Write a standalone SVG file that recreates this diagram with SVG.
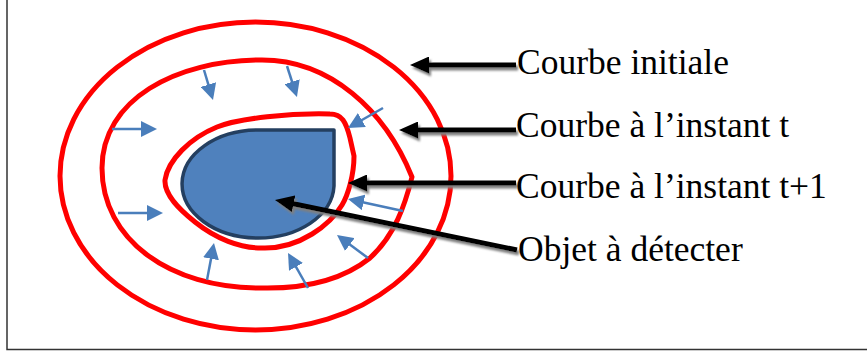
<svg xmlns="http://www.w3.org/2000/svg" width="867" height="356" viewBox="0 0 867 356">
<style>
.red{fill:none;stroke:#FF0000;stroke-width:5;stroke-linejoin:round}
.lbl{font-family:"Liberation Serif","Times New Roman",serif;font-size:35.5px;fill:#000}
.blue{stroke:#4A7EBB;stroke-width:2.5;fill:none}
.blk{stroke:#000;stroke-width:5;fill:none}
</style>
<defs>
<marker id="bh" viewBox="0 0 16 16" refX="8" refY="8" markerWidth="16" markerHeight="16" markerUnits="userSpaceOnUse" orient="auto">
<path d="M0,0 L16,8 L0,16 Z" fill="#4A7EBB"/>
</marker>
<marker id="kh" viewBox="0 0 19 17" refX="9" refY="8.5" markerWidth="19" markerHeight="17" markerUnits="userSpaceOnUse" orient="auto">
<path d="M0,0 L19,8.5 L0,17 Z" fill="#000"/>
</marker>
<filter id="sh" x="-10%" y="-50%" width="120%" height="200%">
<feDropShadow dx="2" dy="3" stdDeviation="0.8" flood-color="#7f7f7f"/>
</filter>
</defs>
<rect width="867" height="356" fill="#fff"/>
<path d="M7,0 V349.5 H867" fill="none" stroke="#333" stroke-width="1.5"/>

<g id="courbe-initiale">
<ellipse class="red" cx="255.5" cy="176" rx="195.5" ry="154"/>
</g>
<g id="courbe-t">
<path class="red" d="M412,177 C405,205 395,235 370,258 C340,282 300,289 260,288 C170,288 102,240 102,168 C102,100 175,60 262,60 C330,60 385,110 412,177 Z"/>
</g>
<g id="courbe-t1">
<path class="red" d="M165,180 C168,160 190,138 217,127 C240,118 290,113 330,114 C342,114 346,122 350,138 L354,156 C354,175 348,195 342,205 C330,225 300,248 265,248 C240,249 215,238 195,222 C180,210 164,195 165,180 Z"/>
</g>
<g id="objet">
<path d="M258,130 L334,130 L334,186 A76,54 0 1 1 258,130 Z" fill="#4F81BD" stroke="#243F60" stroke-width="3.5" stroke-linejoin="round"/>
</g>

<g id="blue-arrows">
<line class="blue" x1="204" y1="70" x2="210.7" y2="92.3" marker-end="url(#bh)"/>
<line class="blue" x1="287" y1="66" x2="294.5" y2="89.4" marker-end="url(#bh)"/>
<line class="blue" x1="383" y1="108" x2="354.9" y2="124" marker-end="url(#bh)"/>
<line class="blue" x1="112" y1="129" x2="149" y2="129" marker-end="url(#bh)"/>
<line class="blue" x1="118" y1="213" x2="155" y2="213" marker-end="url(#bh)"/>
<line class="blue" x1="403" y1="211" x2="355.8" y2="200.7" marker-end="url(#bh)"/>
<line class="blue" x1="368" y1="258" x2="343.4" y2="239.8" marker-end="url(#bh)"/>
<line class="blue" x1="308" y1="288" x2="292" y2="259.9" marker-end="url(#bh)"/>
<line class="blue" x1="207" y1="280" x2="212.5" y2="250.9" marker-end="url(#bh)"/>
</g>

<g id="connectors" filter="url(#sh)">
<line class="blk" x1="516" y1="65" x2="420" y2="65" marker-end="url(#kh)"/>
<line class="blk" x1="516" y1="130" x2="409" y2="130" marker-end="url(#kh)"/>
<line class="blk" x1="516" y1="183" x2="358" y2="183" marker-end="url(#kh)"/>
<line class="blk" x1="517" y1="250" x2="284.8" y2="202" marker-end="url(#kh)"/>
</g>

<g id="labels">
<text id="lbl-initiale" class="lbl" x="517" y="74">Courbe initiale</text>
<text id="lbl-t" class="lbl" x="516" y="137">Courbe à l’instant t</text>
<text id="lbl-t1" class="lbl" x="516" y="198">Courbe à l’instant t+1</text>
<text id="lbl-objet" class="lbl" x="518" y="261">Objet à détecter</text>
</g>
</svg>
